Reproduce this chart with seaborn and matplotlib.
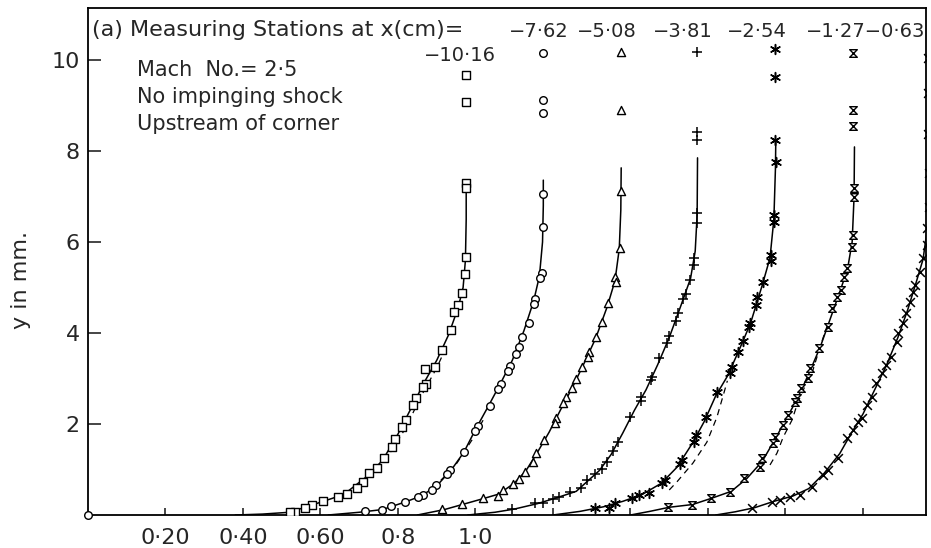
import numpy as np
import pandas as pd
import seaborn as sns
import matplotlib.pyplot as plt
from matplotlib.path import Path

# stations x (cm) and their horizontal shift on the plot
stations = ["−10·16", "−7·62", "−5·08", "−3·81", "−2·54", "−1·27", "−0·63"]
shift = [0.0, 0.2, 0.4, 0.6, 0.8, 1.0, 1.2]

# measured points (u/U, y mm) for each station
u1 = [0.975, 0.975, 0.975, 0.975, 0.975, 0.973, 0.965, 0.955, 0.945, 0.937, 0.914, 0.895, 0.870, 0.872, 0.865,
      0.846, 0.839, 0.821, 0.810, 0.792, 0.785, 0.764, 0.746, 0.725, 0.710, 0.694, 0.668, 0.645, 0.606, 0.578,
      0.560, 0.534, 0.521]
y1 = [9.67, 9.08, 7.30, 7.19, 5.67, 5.30, 4.88, 4.62, 4.46, 4.07, 3.63, 3.25, 3.21, 2.88, 2.81,
      2.57, 2.42, 2.09, 1.93, 1.67, 1.49, 1.25, 1.03, 0.92, 0.73, 0.59, 0.46, 0.40, 0.31, 0.22,
      0.15, 0.07, 0.06]

u2 = [0.974, 0.974, 0.974, 0.974, 0.974, 0.972, 0.966, 0.954, 0.951, 0.938, 0.920, 0.912, 0.905, 0.889, 0.884,
      0.866, 0.858, 0.837, 0.806, 0.799, 0.770, 0.734, 0.726, 0.698, 0.688, 0.665, 0.652, 0.618, 0.582, 0.559,
      0.515]
y2 = [10.15, 9.12, 8.84, 7.05, 6.33, 5.32, 5.21, 4.75, 4.64, 4.22, 3.91, 3.69, 3.54, 3.27, 3.16,
      2.88, 2.77, 2.40, 1.96, 1.85, 1.38, 0.99, 0.90, 0.66, 0.55, 0.44, 0.40, 0.29, 0.20, 0.11,
      0.09]

u3 = [0.975, 0.975, 0.975, 0.973, 0.960, 0.963, 0.942, 0.926, 0.911, 0.893, 0.890, 0.875, 0.859, 0.849, 0.834,
      0.826, 0.808, 0.805, 0.777, 0.756, 0.748, 0.728, 0.712, 0.697, 0.671, 0.658, 0.619, 0.565, 0.514]
y3 = [10.18, 8.90, 7.12, 5.87, 5.23, 5.12, 4.66, 4.24, 3.91, 3.58, 3.47, 3.25, 2.99, 2.79, 2.59,
      2.46, 2.13, 2.02, 1.65, 1.36, 1.16, 0.95, 0.79, 0.68, 0.55, 0.42, 0.37, 0.24, 0.13]

u4 = [0.972, 0.972, 0.972, 0.972, 0.972, 0.964, 0.964, 0.954, 0.943, 0.935, 0.923, 0.917, 0.899, 0.894, 0.874,
      0.855, 0.852, 0.827, 0.827, 0.799, 0.768, 0.755, 0.739, 0.726, 0.708, 0.688, 0.672, 0.644, 0.615, 0.600,
      0.574, 0.554, 0.494]
y4 = [10.18, 8.42, 8.24, 6.64, 6.42, 5.65, 5.49, 5.16, 4.86, 4.75, 4.44, 4.26, 3.93, 3.78, 3.45,
      3.03, 2.97, 2.59, 2.51, 2.15, 1.60, 1.41, 1.16, 1.01, 0.90, 0.77, 0.59, 0.51, 0.40, 0.35,
      0.26, 0.26, 0.13]

u5 = [0.973, 0.973, 0.973, 0.975, 0.970, 0.970, 0.962, 0.962, 0.942, 0.926, 0.924, 0.908, 0.905, 0.890, 0.877,
      0.862, 0.857, 0.823, 0.795, 0.769, 0.764, 0.733, 0.728, 0.689, 0.682, 0.648, 0.622, 0.604, 0.560, 0.545,
      0.508]
y5 = [10.24, 9.63, 8.24, 7.76, 6.59, 6.44, 5.71, 5.58, 5.12, 4.79, 4.62, 4.22, 4.13, 3.82, 3.58,
      3.25, 3.12, 2.70, 2.15, 1.76, 1.60, 1.21, 1.12, 0.77, 0.70, 0.48, 0.44, 0.37, 0.26, 0.15,
      0.15]

u6 = [0.974, 0.974, 0.974, 0.977, 0.977, 0.974, 0.972, 0.959, 0.951, 0.943, 0.933, 0.920, 0.910, 0.886, 0.863,
      0.858, 0.840, 0.830, 0.825, 0.806, 0.794, 0.773, 0.768, 0.739, 0.734, 0.693, 0.657, 0.608, 0.559, 0.497]
y6 = [10.15, 8.90, 8.55, 7.19, 6.99, 6.15, 5.89, 5.43, 5.23, 4.95, 4.79, 4.55, 4.13, 3.67, 3.23,
      3.01, 2.79, 2.57, 2.48, 2.20, 1.98, 1.71, 1.58, 1.25, 1.05, 0.81, 0.51, 0.37, 0.22, 0.18]

u7 = [0.968, 0.968, 0.968, 0.970, 0.970, 0.965, 0.965, 0.955, 0.947, 0.934, 0.929, 0.921, 0.911, 0.903, 0.890,
      0.888, 0.872, 0.859, 0.849, 0.834, 0.823, 0.810, 0.797, 0.787, 0.774, 0.759, 0.735, 0.710, 0.697, 0.668,
      0.637, 0.612, 0.586, 0.565, 0.514]
y7 = [10.04, 9.27, 8.37, 7.52, 6.77, 6.31, 5.93, 5.65, 5.34, 5.05, 4.90, 4.68, 4.44, 4.22, 4.00,
      3.80, 3.47, 3.30, 3.12, 2.90, 2.59, 2.42, 2.13, 2.04, 1.87, 1.69, 1.25, 0.99, 0.88, 0.62,
      0.44, 0.40, 0.33, 0.29, 0.15]

# faired (solid) curves
fu1 = [0.38, 0.45, 0.52, 0.60, 0.66, 0.72, 0.76, 0.80, 0.84, 0.87, 0.90, 0.93, 0.955, 0.968, 0.974, 0.976, 0.976]
fy1 = [0.0, 0.02, 0.06, 0.28, 0.45, 0.85, 1.20, 1.78, 2.45, 2.95, 3.40, 3.95, 4.55, 5.00, 5.60, 6.50, 7.25]
fu2 = [0.42, 0.50, 0.56, 0.62, 0.66, 0.70, 0.74, 0.77, 0.80, 0.835, 0.865, 0.895, 0.925, 0.950, 0.965, 0.973, 0.975, 0.975]
fy2 = [0.0, 0.06, 0.12, 0.29, 0.42, 0.64, 1.02, 1.38, 1.88, 2.42, 2.90, 3.40, 4.05, 4.70, 5.25, 6.00, 6.80, 7.36]
fu3 = [0.45, 0.52, 0.57, 0.62, 0.66, 0.70, 0.73, 0.76, 0.79, 0.82, 0.85, 0.88, 0.91, 0.94, 0.96, 0.971, 0.975, 0.976]
fy3 = [0.0, 0.12, 0.24, 0.36, 0.46, 0.70, 0.97, 1.38, 1.82, 2.32, 2.80, 3.33, 3.88, 4.58, 5.15, 5.85, 6.70, 7.63]
fu4 = [0.38, 0.45, 0.50, 0.56, 0.61, 0.66, 0.69, 0.72, 0.75, 0.78, 0.81, 0.84, 0.87, 0.90, 0.93, 0.955, 0.967, 0.972, 0.973]
fy4 = [0.0, 0.06, 0.13, 0.25, 0.38, 0.52, 0.75, 0.98, 1.33, 1.80, 2.30, 2.75, 3.30, 3.90, 4.60, 5.20, 5.80, 6.60, 7.85]
fu5 = [0.40, 0.47, 0.53, 0.58, 0.63, 0.68, 0.72, 0.76, 0.79, 0.82, 0.85, 0.88, 0.91, 0.94, 0.96, 0.970, 0.974, 0.975]
fy5 = [0.0, 0.08, 0.18, 0.30, 0.45, 0.70, 1.05, 1.58, 2.05, 2.62, 3.05, 3.62, 4.22, 5.05, 5.65, 6.50, 7.60, 8.24]
fu6 = [0.40, 0.45, 0.50, 0.56, 0.61, 0.66, 0.70, 0.74, 0.77, 0.80, 0.83, 0.86, 0.89, 0.915, 0.94, 0.96, 0.972, 0.977, 0.978]
fy6 = [0.0, 0.08, 0.17, 0.23, 0.37, 0.52, 0.80, 1.18, 1.62, 2.08, 2.55, 3.10, 3.70, 4.30, 4.90, 5.40, 6.00, 7.00, 8.09]
fu7 = [0.42, 0.47, 0.52, 0.57, 0.62, 0.66, 0.70, 0.74, 0.77, 0.80, 0.83, 0.86, 0.89, 0.915, 0.935, 0.955, 0.966, 0.970]
fy7 = [0.0, 0.07, 0.16, 0.30, 0.42, 0.58, 0.92, 1.35, 1.80, 2.22, 2.75, 3.28, 3.90, 4.50, 5.05, 5.62, 6.30, 7.30]

# dashed curves
du1 = [0.702, 0.748, 0.785, 0.821, 0.857, 0.901, 0.921]
dy1 = [0.66, 1.03, 1.43, 1.93, 2.57, 3.25, 3.63]
du2 = [0.690, 0.716, 0.752, 0.791, 0.824]
dy2 = [0.59, 0.81, 1.14, 1.65, 2.15]
du5 = [0.700, 0.720, 0.761, 0.797, 0.823, 0.841, 0.850]
dy5 = [0.55, 0.73, 1.14, 1.60, 2.15, 2.68, 2.95]
du6 = [0.760, 0.778, 0.794, 0.817, 0.832, 0.855, 0.871, 0.889, 0.910]
dy6 = [1.10, 1.36, 1.71, 2.09, 2.48, 2.92, 3.19, 3.69, 4.22]

hourglass = Path([(-1, 1), (1, 1), (-1, -1), (1, -1), (-1, 1)],
                 [Path.MOVETO, Path.LINETO, Path.LINETO, Path.LINETO, Path.CLOSEPOLY])
markers = ["s", "o", "^", "+", (6, 2, 0), hourglass, "x"]
sizes = [28, 30, 34, 50, 50, 30, 40]

points = [(u1, y1), (u2, y2), (u3, y3), (u4, y4), (u5, y5), (u6, y6), (u7, y7)]
fits = [(fu1, fy1), (fu2, fy2), (fu3, fy3), (fu4, fy4), (fu5, fy5), (fu6, fy6), (fu7, fy7)]
dashed = {0: (du1, dy1), 1: (du2, dy2), 4: (du5, dy5), 5: (du6, dy6)}

sns.set_theme(style="ticks")
plt.rcParams["font.family"] = ["DejaVu Sans"]

fig, ax = plt.subplots(figsize=(9.31, 5.48), dpi=100)
fig.subplots_adjust(left=88 / 931, right=926 / 931, bottom=33 / 548, top=540 / 548)

for i in range(7):
    fu, fy = fits[i]
    sns.lineplot(x=np.array(fu) + shift[i], y=fy, sort=False, estimator=None,
                 color="black", linewidth=1.1, ax=ax, zorder=2)
    if i in dashed:
        du, dy = dashed[i]
        sns.lineplot(x=np.array(du) + shift[i], y=dy, sort=False, estimator=None,
                     color="black", linewidth=0.9, dashes=(5, 4), ax=ax, zorder=2)

    pu, py = points[i]
    df = pd.DataFrame({"x": np.array(pu) + shift[i], "y": py})
    m = markers[i]
    if m in ["+", "x"] or isinstance(m, tuple):
        sns.scatterplot(data=df, x="x", y="y", marker=m, s=sizes[i], color="black",
                        linewidth=1.1, ax=ax, zorder=3)
    else:
        sns.scatterplot(data=df, x="x", y="y", marker=m, s=sizes[i], color="black",
                        facecolor="white", edgecolor="black", linewidth=1.0, ax=ax, zorder=3)

# wall point
sns.scatterplot(x=[0.0], y=[0.0], marker="o", s=30, color="black", facecolor="white",
                edgecolor="black", linewidth=1.0, ax=ax, zorder=4, clip_on=False)

ax.set_xlim(0, 2.1626)
ax.set_ylim(0, 11.143)
ax.set_xticks([0.2, 0.4, 0.6, 0.8, 1.0, 1.2, 1.4, 1.6, 1.8, 2.0])
ax.set_xticklabels(["0·20", "0·40", "0·60", "0·8", "1·0", "", "", "", "", ""])
ax.set_yticks([2, 4, 6, 8, 10])
ax.set_yticklabels(["2", "4", "6", "8", "10"])
ax.tick_params(axis="y", direction="in", length=9, width=1.2, labelsize=16, pad=6)
ax.tick_params(axis="x", direction="in", length=5, width=1.2, labelsize=16, pad=9)
for sp in ax.spines.values():
    sp.set_linewidth(1.3)
    sp.set_color("black")
ax.set_xlabel("")
ax.set_ylabel("y in mm.", fontsize=16)
ax.yaxis.set_label_coords(-0.068, 0.464)

ax.text(0.010, 10.66, "(a) Measuring Stations at x(cm)=", fontsize=16, va="center", ha="left")
ax.text(0.96, 10.11, stations[0], fontsize=14, va="center", ha="center")
label_x = [1.164, 1.339, 1.535, 1.726]
for lx, s in zip(label_x, stations[1:5]):
    ax.text(lx, 10.62, s, fontsize=14, va="center", ha="center")
ax.text(2.160, 10.62, stations[5] + stations[6], fontsize=14, va="center", ha="right")
ax.text(0.126, 9.78, "Mach  No.= 2·5", fontsize=15, va="center", ha="left")
ax.text(0.126, 9.19, "No impinging shock", fontsize=15, va="center", ha="left")
ax.text(0.126, 8.59, "Upstream of corner", fontsize=15, va="center", ha="left")

fig.savefig("out.png", dpi=100)
